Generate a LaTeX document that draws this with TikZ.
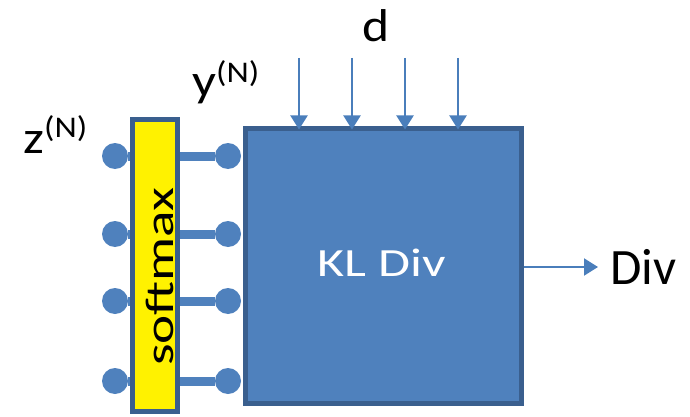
\documentclass[tikz,border=0pt]{standalone}
\usepackage{fontspec}
\setmainfont{Carlito}
\usetikzlibrary{arrows.meta}
\definecolor{klblue}{HTML}{4F81BD}
\definecolor{kledge}{HTML}{3A5F8E}
\definecolor{wire}{HTML}{4A7EBB}
\newcommand{\upN}[1]{\raisebox{#1}{\fontsize{30}{34}\selectfont(N)}}
\newcommand{\widetxt}[2]{\scalebox{#1}[1]{#2}}
\tikzset{tip/.style={draw=wire, line width=2pt, -{Triangle[width=17pt,length=14pt]}},
  dot/.style={circle, fill=klblue, inner sep=0pt, minimum size=26pt},
  bus/.style={draw=klblue, line width=9pt},
  smx/.style={draw=kledge, line width=5pt, fill=yellow, minimum width=45pt, minimum height=291pt, inner sep=0pt},
  klbox/.style={draw=kledge, line width=5pt, fill=klblue, minimum width=276pt, minimum height=275pt, inner sep=0pt},
  lbl/.style={inner sep=0pt, font=\fontsize{46}{52}\selectfont}}
\begin{document}
\begin{tikzpicture}[x=1pt,y=-1pt]
  \useasboundingbox (0,0) rectangle (690,417);
  % blocks
  \node[smx] (sm) at (155,265.5) {};
  \node[klbox] (kl) at (383,265.5) {};
  \node[lbl, text=white, font=\fontsize{40}{46}\selectfont] (kllab) at (381.5,262.5) {\widetxt{1.3}{KL Div}};
  \node[lbl, rotate=90, font=\fontsize{40}{46}\selectfont] (smlab) at (160,276.5) {\widetxt{1.38}{softmax}};
  % inputs and outputs of the softmax
  \foreach \i/\y in {1/156, 2/234, 3/301, 4/381}{
    \node[dot] (z\i) at (115,\y) {};
    \node[dot] (y\i) at (228,\y) {};
    \draw[bus] (z\i) -- (sm.west |- z\i);
    \draw[bus] (sm.east |- y\i) -- (y\i);}
  % target d
  \node[lbl, anchor=base] (dlab) at (376,42) {\widetxt{1.12}{d}};
  \foreach \x in {299, 352, 405, 458}{
    \coordinate (d\x) at (\x,58);
    \draw[tip, shorten >=-4pt] (d\x) -- (d\x |- kl.north);}
  % output
  \node[lbl, anchor=west, font=\fontsize{51}{56}\selectfont] (out) at (610,267) {Div};
  \draw[tip, shorten >=12pt] (kl.east |- out.west) -- (out.west);
  % labels
  \node[lbl, anchor=base west] (zlab) at (23,153) {\widetxt{1.15}{z\upN{16pt}}};
  \node[lbl, anchor=base west] (ylab) at (192,97) {\widetxt{1.15}{y\upN{14pt}}};
\end{tikzpicture}
\end{document}
